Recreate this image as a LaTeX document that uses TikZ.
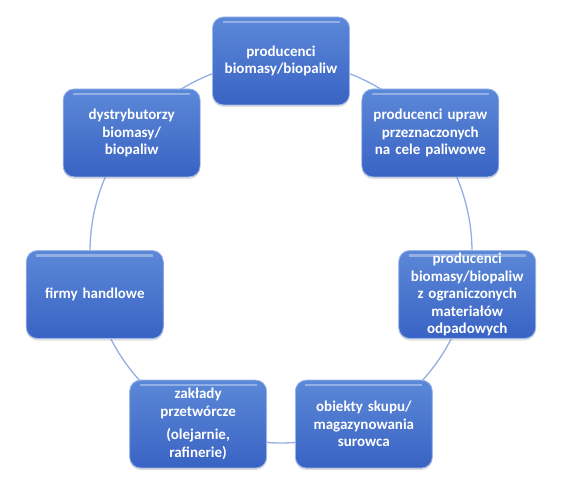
\documentclass[tikz,border=0pt]{standalone}
\usepackage{fontspec}
\setmainfont{Carlito}[BoldFont={Carlito Bold}]
\usepackage{tikz}
\usetikzlibrary{shadows}
\definecolor{boxtop}{HTML}{5C88D8}
\definecolor{boxbottom}{HTML}{3963C3}
\definecolor{boxedge}{HTML}{9DB8EC}
\definecolor{ring}{HTML}{93AEE2}
\tikzset{
  actor/.style={rounded corners=11pt,top color=boxtop,bottom color=boxbottom,
    draw=boxedge,line width=0.8pt,minimum width=137pt,minimum height=88pt,
    text width=134pt,align=center,inner sep=0pt,text=white,
    font=\bfseries\fontsize{15}{17.5}\selectfont,
    drop shadow={opacity=0.25,shadow xshift=0pt,shadow yshift=-2pt},
    path picture={\draw[white,opacity=0.35,line width=2.5pt]
      ([xshift=10pt,yshift=-5pt]path picture bounding box.north west)--
      ([xshift=-10pt,yshift=-5pt]path picture bounding box.north east);}},
  ringline/.style={draw=ring,line width=1.3pt}
}
\begin{document}
\begin{tikzpicture}[x=1pt,y=1pt]
        \useasboundingbox (-281,-245) rectangle (283,252);
        \coordinate (hub) at (0,0);
        \draw[ringline] (hub) circle[radius=191pt];
        \node[actor] (prod) at (90:191) {producenci\\biomasy/biopaliw};
        \node[actor] (crops) at (38.57:191) {producenci upraw\\przeznaczonych\\na cele paliwowe};
        \node[actor] (waste) at (-12.86:191) {producenci\\biomasy/biopaliw\\z ograniczonych\\materiałów\\odpadowych};
        \node[actor] (store) at (-64.29:191) {obiekty skupu/\\magazynowania\\surowca};
        \node[actor] (plant) at (-115.71:191) {zakłady\\przetwórcze\\[6pt](olejarnie,\\rafinerie)};
        \node[actor] (trade) at (192.86:191) {firmy handlowe};
        \node[actor] (dist) at (141.43:191) {dystrybutorzy\\biomasy/\\biopaliw};
      \end{tikzpicture}
\end{document}
